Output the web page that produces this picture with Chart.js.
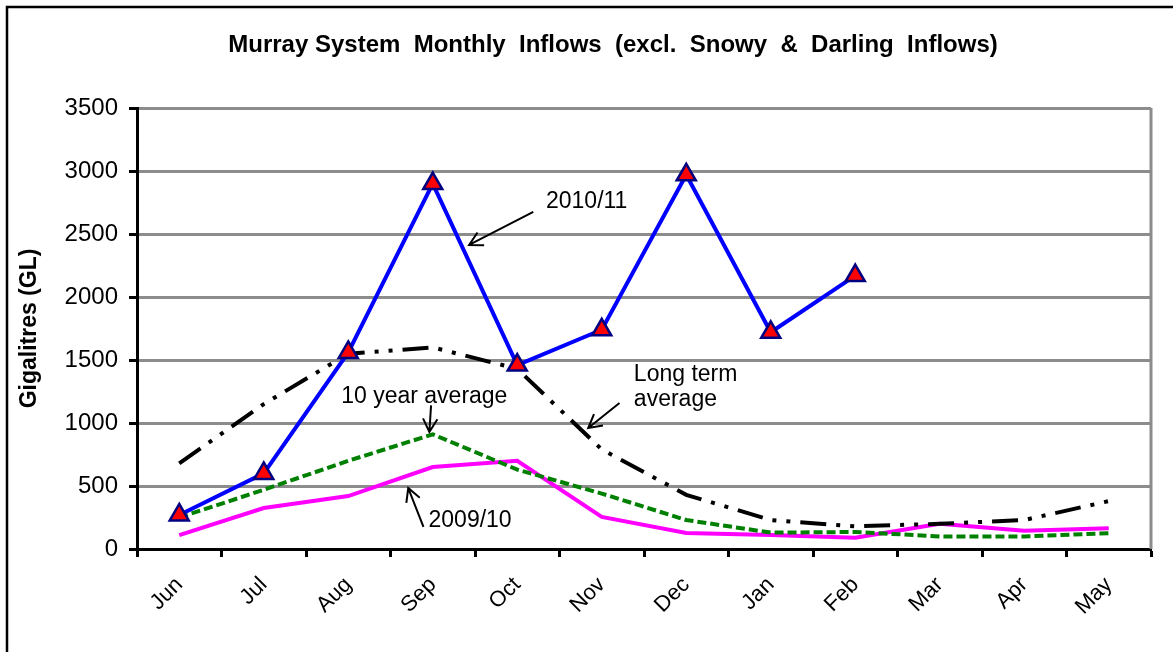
<!DOCTYPE html>
<html>
<head>
<meta charset="utf-8">
<script src="https://cdn.jsdelivr.net/npm/chart.js@4"></script>
<style>
  html, body { margin: 0; padding: 0; background: #fff; }
  canvas { display: block; }
</style>
</head>
<body>
<canvas id="grafico" width="1173" height="652"></canvas>
<script>
const meses = ['Jun', 'Jul', 'Aug', 'Sep', 'Oct', 'Nov', 'Dec', 'Jan', 'Feb', 'Mar', 'Apr', 'May'];
const inflows2010 = [270, 600, 1560, 2900, 1460, 1740, 2970, 1720, 2170, null, null, null];
const largoPlazo = [680, 1150, 1550, 1600, 1430, 790, 430, 230, 180, 200, 230, 380];
const diezAnios = [250, 470, 700, 910, 630, 440, 230, 130, 135, 100, 100, 125];
const inflows2009 = [110, 325, 420, 650, 700, 255, 127, 111, 90, 200, 145, 165];
const yTicks = [0, 500, 1000, 1500, 2000, 2500, 3000, 3500];
const titulo = 'Murray System  Monthly  Inflows  (excl.  Snowy  &  Darling  Inflows)';

// notas: texto en [indice mes, valor] y flecha [desde idx, desde valor, hasta idx, hasta valor]
const notas = [
  { lineas: ['2010/11'], x: 4.34, y: 2754, align: 'left', flecha: [4.19, 2675, 3.43, 2413] },
  { lineas: ['10 year average'], x: 2.90, y: 1206, align: 'center', flecha: [2.98, 1140, 2.96, 929] },
  { lineas: ['Long term', 'average'], x: 5.38, y: 1381, align: 'left', flecha: [5.21, 1159, 4.84, 960] },
  { lineas: ['2009/10'], x: 2.95, y: 222, align: 'left', flecha: [2.89, 175, 2.71, 484] }
];

const FUENTE = '"Liberation Sans", Arial, sans-serif';

const marcoPlugin = {
  id: 'marco',
  beforeDraw(chart) {
    const ctx = chart.ctx;
    ctx.save();
    ctx.fillStyle = '#fff';
    ctx.fillRect(0, 0, chart.width, chart.height);
    ctx.strokeStyle = '#000';
    ctx.lineWidth = 2.5;
    ctx.strokeRect(7, 7, chart.width + 20, chart.height + 20);
    // titulo centrado sobre el marco completo (que sigue fuera del lienzo)
    ctx.fillStyle = '#000';
    ctx.font = 'bold 24px ' + FUENTE;
    ctx.textAlign = 'center';
    ctx.textBaseline = 'middle';
    ctx.fillText(titulo, 613, 45);
    ctx.restore();
  },
  beforeDatasetsDraw(chart) {
    const { ctx, chartArea } = chart;
    ctx.save();
    ctx.strokeStyle = '#8c8c8c';
    ctx.lineWidth = 3;
    ctx.beginPath();
    ctx.moveTo(chartArea.right, chartArea.top);
    ctx.lineTo(chartArea.right, chartArea.bottom);
    ctx.stroke();
    ctx.restore();
  }
};

function flecha(ctx, x1, y1, x2, y2) {
  const ang = Math.atan2(y2 - y1, x2 - x1);
  const largo = 15;
  ctx.beginPath();
  ctx.moveTo(x1, y1);
  ctx.lineTo(x2, y2);
  ctx.moveTo(x2 - largo * Math.cos(ang - 0.5), y2 - largo * Math.sin(ang - 0.5));
  ctx.lineTo(x2, y2);
  ctx.lineTo(x2 - largo * Math.cos(ang + 0.5), y2 - largo * Math.sin(ang + 0.5));
  ctx.stroke();
}

const notasPlugin = {
  id: 'notas',
  afterDatasetsDraw(chart) {
    const { ctx, scales } = chart;
    const xs = scales.x, ys = scales.y;
    const px = v => xs.left + (v + 0.5) * (xs.width / meses.length);
    ctx.save();
    ctx.fillStyle = '#000';
    ctx.strokeStyle = '#000';
    ctx.lineWidth = 2;
    ctx.font = '23px ' + FUENTE;
    ctx.textBaseline = 'middle';
    notas.forEach(n => {
      ctx.textAlign = n.align;
      n.lineas.forEach((t, i) => {
        ctx.fillText(t, px(n.x), ys.getPixelForValue(n.y) + i * 25);
      });
      const f = n.flecha;
      flecha(ctx, px(f[0]), ys.getPixelForValue(f[1]), px(f[2]), ys.getPixelForValue(f[3]));
    });
    ctx.restore();
  }
};

function crearGrafico() {
  const ctx = document.getElementById('grafico').getContext('2d');
  new Chart(ctx, {
    type: 'line',
    data: {
      labels: meses,
      datasets: [
        {
          label: '2010/11',
          data: inflows2010,
          borderColor: '#0000ff',
          borderWidth: 4,
          pointStyle: 'triangle',
          pointRadius: 11,
          pointBackgroundColor: '#ff0000',
          pointBorderColor: '#000080',
          pointBorderWidth: 2.5,
          tension: 0,
          spanGaps: false
        },
        {
          label: 'Long term average',
          data: largoPlazo,
          borderColor: '#000',
          borderWidth: 4,
          borderDash: [26, 10, 4, 10, 4, 10],
          pointRadius: 0,
          tension: 0
        },
        {
          label: '10 year average',
          data: diezAnios,
          borderColor: '#008000',
          borderWidth: 4,
          borderDash: [9, 4],
          pointRadius: 0,
          tension: 0
        },
        {
          label: '2009/10',
          data: inflows2009,
          borderColor: '#ff00ff',
          borderWidth: 4,
          pointRadius: 0,
          tension: 0
        }
      ]
    },
    options: {
      responsive: false,
      animation: false,
      events: [],
      layout: { padding: { left: 0, right: 22, top: 108, bottom: 0 } },
      plugins: {
        legend: { display: false },
        tooltip: { enabled: false },
        title: { display: false }
      },
      scales: {
        x: {
          offset: true,
          grid: { drawOnChartArea: false, drawTicks: true, tickLength: 8, tickColor: '#000', tickWidth: 3, offset: true },
          border: { display: true, color: '#000', width: 3 },
          ticks: {
            color: '#000',
            font: { family: FUENTE, size: 22 },
            minRotation: 45,
            maxRotation: 45,
            padding: 15
          },
          afterFit(scale) { scale.height = 103; }
        },
        y: {
          min: 0,
          max: 3500,
          afterBuildTicks(scale) { scale.ticks = yTicks.map(v => ({ value: v })); },
          grid: { color: '#8c8c8c', lineWidth: 3, drawTicks: true, tickLength: 8, tickColor: '#000', tickWidth: 3 },
          border: { display: true, color: '#000', width: 3 },
          ticks: {
            color: '#000',
            font: { family: FUENTE, size: 24 },
            padding: 11,
            callback: v => String(v)
          },
          title: {
            display: true,
            text: 'Gigalitres (GL)',
            color: '#000',
            font: { family: FUENTE, size: 23, weight: 'bold' },
            padding: { top: 16, bottom: 0 }
          },
          afterFit(scale) { scale.width = 137; }
        }
      }
    },
    plugins: [marcoPlugin, notasPlugin]
  });
}

crearGrafico();
</script>
</body>
</html>
